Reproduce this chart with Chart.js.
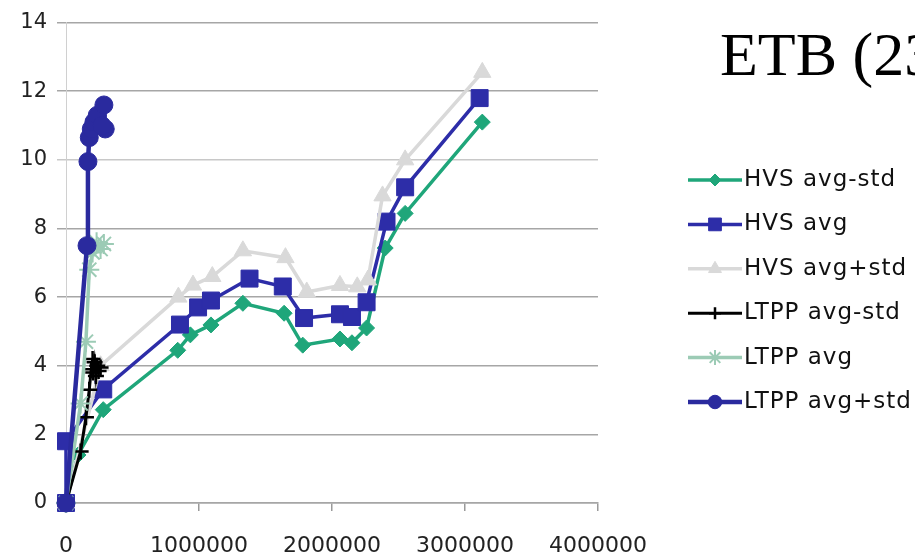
<!DOCTYPE html>
<html><head><meta charset="utf-8">
<script src="https://cdn.jsdelivr.net/npm/chart.js@4"></script>
<style>
html,body{margin:0;padding:0;width:915px;height:559px;overflow:hidden;background:#fff;}
#wrap{position:relative;width:915px;height:559px;overflow:hidden;}
canvas{position:absolute;left:0;top:0;}
#title{position:absolute;left:720px;top:23px;font:62px/62px "Liberation Serif","Times New Roman",serif;color:#000;white-space:nowrap;}
</style></head>
<body><div id="wrap"><canvas id="c" width="915" height="559"></canvas><div id="title">ETB (23</div></div>
<script>
// ---- data ----
const seriesNames = ['HVS avg-std','HVS avg','HVS avg+std','LTPP avg-std','LTPP avg','LTPP avg+std'];

const hvsMinusX = [0, 90000, 280000, 840000, 935000, 1090000, 1330000, 1640000, 1780000, 2060000, 2150000, 2260000, 2400000, 2550000, 3130000];
const hvsMinusY = [0, 1.4, 2.72, 4.45, 4.9, 5.19, 5.82, 5.53, 4.6, 4.78, 4.67, 5.1, 7.43, 8.44, 11.1];

const hvsAvgX = [0, 0, 280000, 857000, 993000, 1090000, 1380000, 1630000, 1790000, 2060000, 2150000, 2260000, 2410000, 2550000, 3110000];
const hvsAvgY = [0, 1.8, 3.31, 5.2, 5.7, 5.9, 6.54, 6.31, 5.39, 5.5, 5.42, 5.85, 8.2, 9.2, 11.8];

const hvsPlusX = [0, 260000, 845000, 955000, 1100000, 1330000, 1650000, 1810000, 2060000, 2190000, 2270000, 2380000, 2550000, 3130000];
const hvsPlusY = [0, 4.0, 6.0, 6.35, 6.6, 7.35, 7.15, 6.15, 6.34, 6.3, 6.5, 8.95, 10.0, 12.55];

const ltppMinusX = [0, 110000, 150000, 175000, 190000, 200000, 205000, 215000, 225000, 235000, 245000, 260000];
const ltppMinusY = [0, 1.5, 2.5, 3.3, 3.9, 4.2, 3.8, 4.1, 3.7, 4.0, 3.85, 3.95];

const ltppAvgX = [0, 110000, 150000, 175000, 200000, 230000, 260000, 285000];
const ltppAvgY = [0, 2.9, 4.7, 6.8, 7.3, 7.6, 7.4, 7.55];

const ltppPlusX = [0, 158000, 165000, 175000, 190000, 210000, 235000, 285000, 295000, 270000];
const ltppPlusY = [0, 7.5, 9.95, 10.65, 10.9, 11.1, 11.3, 11.6, 10.9, 11.0];

const xTickValues = [0, 1000000, 2000000, 3000000, 4000000];
const xTickLabels = ['0', '1000000', '2000000', '3000000', '4000000'];
const yTickValues = [0, 2, 4, 6, 8, 10, 12, 14];
const yTickLabels = ['0', '2', '4', '6', '8', '10', '12', '14'];

// ---- build ----
const pts = (xs, ys) => xs.map((x, i) => ({x: x, y: ys[i]}));
const styles = [
  {color:'#1fa67a', point:'rectRot', r:8, w:3.5, pb:1},
  {color:'#2d2da8', point:'rect', r:12, w:3.5, pb:1},
  {color:'#d9d9d9', point:'triangle', r:10, w:3.5, pb:1},
  {color:'#000000', point:'cross', r:8, w:3, pb:2.5},
  {color:'#9ccbb5', point:'star', r:10, w:3.5, pb:2},
  {color:'#2a2a9e', point:'circle', r:9, w:4.5, pb:1}
];
const xsList = [hvsMinusX, hvsAvgX, hvsPlusX, ltppMinusX, ltppAvgX, ltppPlusX];
const ysList = [hvsMinusY, hvsAvgY, hvsPlusY, ltppMinusY, ltppAvgY, ltppPlusY];

const datasets = seriesNames.map((name, i) => ({
  label: name,
  data: pts(xsList[i], ysList[i]),
  borderColor: styles[i].color,
  backgroundColor: styles[i].color,
  pointBackgroundColor: styles[i].color,
  pointBorderColor: styles[i].color,
  pointBorderWidth: styles[i].pb,
  borderWidth: styles[i].w,
  pointStyle: styles[i].point,
  pointRadius: styles[i].r,
  showLine: true,
  tension: 0,
  clip: false,
  order: 10 - i
}));

const legendPlugin = {
  id: 'xlLegend',
  afterDraw(chart) {
    const ctx = chart.ctx;
    ctx.save();
    chart.data.datasets.forEach((ds, i) => {
      const y = 180 + i * 44.4;
      ctx.strokeStyle = ds.borderColor;
      ctx.lineWidth = ds.borderWidth;
      ctx.beginPath(); ctx.moveTo(688, y); ctx.lineTo(742, y); ctx.stroke();
      ctx.fillStyle = ds.pointBackgroundColor;
      ctx.strokeStyle = ds.pointBorderColor;
      ctx.lineWidth = ds.pointBorderWidth;
      Chart.helpers.drawPoint(ctx, {pointStyle: ds.pointStyle, radius: ds.pointRadius * 0.75, rotation: 0, borderWidth: ds.pointBorderWidth}, 715, y);
      ctx.fillStyle = '#111';
      ctx.font = '23px "DejaVu Sans"';
      try { ctx.letterSpacing = '1px'; } catch (e) {}
      ctx.textBaseline = 'middle';
      ctx.textAlign = 'left';
      ctx.fillText(ds.label, 744, y);
    });
    ctx.restore();
  }
};

new Chart(document.getElementById('c'), {
  type: 'scatter',
  data: {datasets: datasets},
  plugins: [legendPlugin],
  options: {
    responsive: false,
    animation: false,
    devicePixelRatio: 1,
    layout: {padding: {left: 0, right: 317, top: 17, bottom: 0}},
    plugins: {legend: {display: false}, tooltip: {enabled: false}, title: {display: false}},
    scales: {
      x: {
        type: 'linear', min: 0, max: 4000000,
        afterBuildTicks: (s) => { s.ticks = xTickValues.map(v => ({value: v})); },
        afterFit: (s) => { s.height = 56; },
        ticks: {
          callback: (v) => xTickLabels[xTickValues.indexOf(v)],
          font: {family: 'DejaVu Sans', size: 22},
          color: '#222', padding: 22, maxRotation: 0, autoSkip: false
        },
        grid: {drawOnChartArea: false, drawTicks: true, tickLength: 8, color: '#9a9a9a', lineWidth: 1.5},
        border: {display: true, color: '#a6a6a6', width: 1.5}
      },
      y: {
        type: 'linear', min: 0, max: 14,
        afterBuildTicks: (s) => { s.ticks = yTickValues.map(v => ({value: v})); },
        afterFit: (s) => { s.width = 66; },
        ticks: {
          callback: (v) => yTickLabels[yTickValues.indexOf(v)],
          font: {family: 'DejaVu Sans', size: 21},
          color: '#222', padding: 10
        },
        grid: {
          color: (c) => (c.tick && c.tick.value === 10) ? '#c8c8c8' : '#a6a6a6',
          lineWidth: 1.5, tickLength: 9, drawTicks: true
        },
        border: {display: true, color: '#d0d0d0', width: 1}
      }
    }
  }
});
</script>
</body></html>
